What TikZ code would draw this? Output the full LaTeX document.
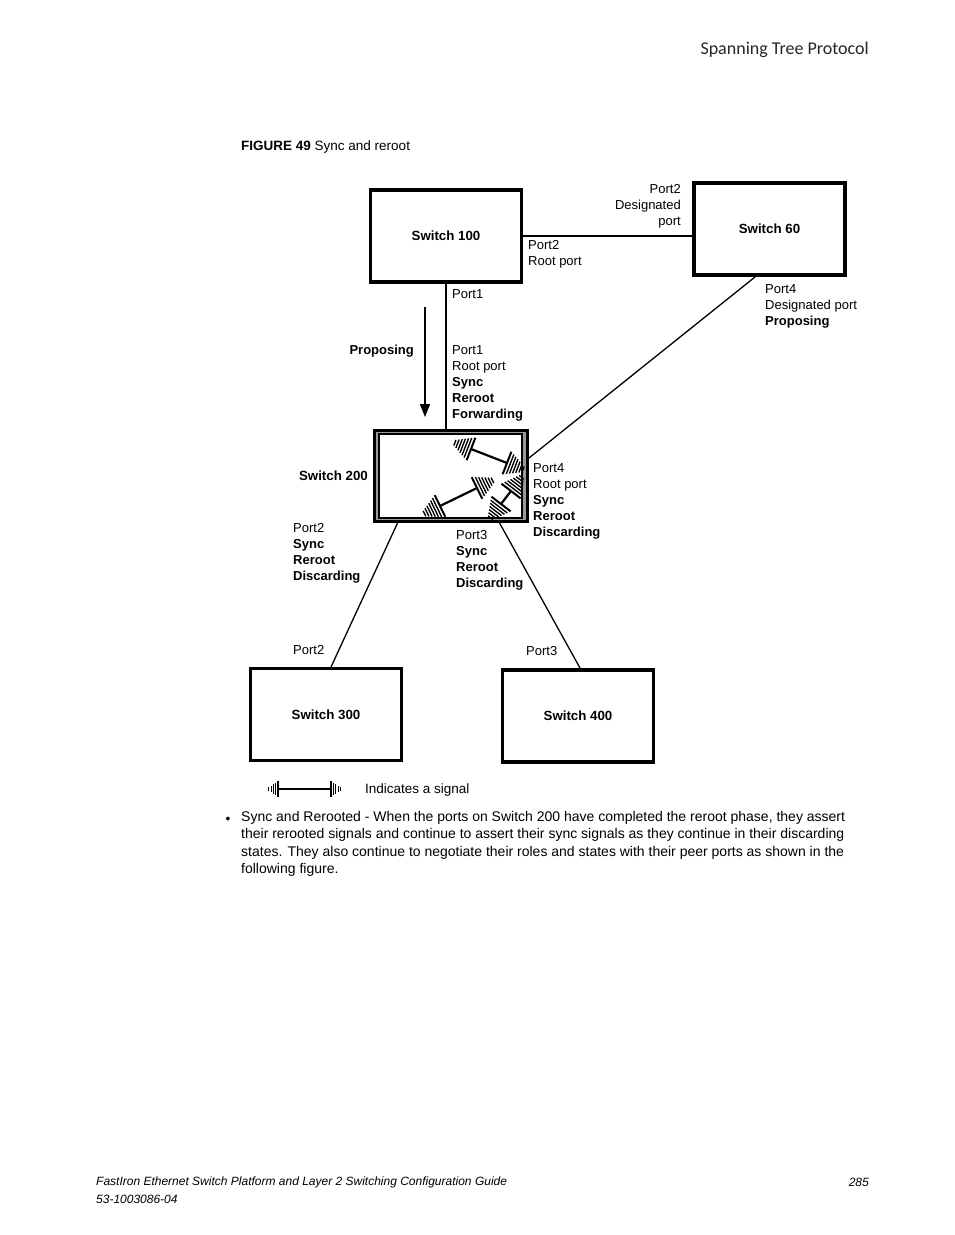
\documentclass[tikz,border=0pt]{standalone}
\usepackage{fontspec}
\setmainfont{Liberation Sans}
\newfontfamily\hdrfont{Carlito}
\usetikzlibrary{arrows.meta,calc}

\tikzset{
  sw/.style={draw, line width=3.5pt, minimum width=151pt, minimum height=92pt, inner sep=0,
    font=\fontsize{13.3}{16}\selectfont\bfseries},
  lbl/.style={font=\fontsize{13}{16}\selectfont, inner sep=0, align=left},
  lblr/.style={font=\fontsize{13}{16}\selectfont, inner sep=0, align=right},
  link/.style={line width=1.3pt},
  body/.style={font=\fontsize{14}{17.5}\selectfont, inner sep=0, align=left},
  pics/sigend/.style={code={
     \draw[line width=2pt] (0,-12) -- (0,12);
     \foreach \d/\h in {3.3/10.5,6.1/9,8.9/7.5,11.7/6,14.5/4.5,17.3/3}{\draw[line width=1.35pt] (\d,-\h) -- (\d,\h);}
  }},
  pics/sigendsmall/.style={code={
     \draw[line width=1.4pt] (0,-8) -- (0,8);
     \foreach \d/\h in {2.6/6,4.8/4.6,7/3.3,9.2/2}{\draw[line width=0.8pt] (\d,-\h) -- (\d,\h);}
  }}
}

\newcommand\sigdraw[4]{%
  \draw[line width=#4] (#1) -- (#2);
  \pgfmathanglebetweenpoints{\pgfpointanchor{#1}{center}}{\pgfpointanchor{#2}{center}}%
  \let\sigang\pgfmathresult
  \path (#2) pic[rotate=\sigang] {#3};
  \path (#1) pic[rotate=\sigang+180] {#3};
}

\begin{document}
\begin{tikzpicture}[x=1pt,y=-1pt]
\fill[white] (0,0) rectangle (954,1235);
\useasboundingbox (0,0) rectangle (954,1235);

% header and caption
\node[anchor=east, inner sep=0, font=\hdrfont\fontsize{18}{22}\selectfont, text=black!85] (hdr) at (869,50) {Spanning Tree Protocol};
\node[anchor=west, inner sep=0, font=\fontsize{13.5}{16}\selectfont] (cap) at (241,147) {\textbf{FIGURE 49} Sync and reroot};

% switches
\node[sw] (s100) at (446,236) {Switch 100};
\node[sw] (s60) at (769.5,229) {Switch 60};
\node[sw] (s300) at (326,714.5) {Switch 300};
\node[sw] (s400) at (578,716) {Switch 400};

% switch 200 (double border)
\node[draw, line width=3pt, fill=black!40, minimum width=153pt, minimum height=91pt, inner sep=0] (s200) at (451,476) {};
\draw[line width=2.5pt, fill=white] ($(s200.south west)+(6,-5)$) rectangle ($(s200.north east)+(-7,5)$);
\node[anchor=east, inner sep=0, font=\fontsize{13.3}{16}\selectfont\bfseries] (s200l) at (368,476) {Switch 200};

% connectors
\draw[link] (s100.east) -- (s100.east -| s60.west);
\draw[link, line width=2pt] (s100.south) -- (s100.south |- s200.north);
\coordinate (p4a) at (529,458);
\coordinate (p4b) at (755,277);
\draw[link] (p4a) -- (p4b);
\coordinate (p2a) at (398,522);
\coordinate (p2b) at (331,667);
\draw[link] (p2a) -- (p2b);
\coordinate (p3a) at (499,522);
\coordinate (p3b) at (580,668);
\draw[link] (p3a) -- (p3b);

% proposing arrow
\coordinate (ar1) at (425,307);
\coordinate (ar2) at (425,417);
\draw[line width=1.3pt, -{Triangle[length=13pt,width=10pt]}] (ar1) -- (ar2);

% labels
\node[lblr, anchor=north east] (l60p2) at (681,184.5) {Port2\\Designated\\port};
\node[lbl, anchor=north west] (l100p2) at (528,240.5) {Port2\\Root port};
\node[lbl, anchor=north west] (l100p1) at (452,289.5) {Port1};
\node[lbl, anchor=east, font=\fontsize{13}{16}\selectfont\bfseries] (lprop) at (414,351) {Proposing};
\node[lbl, anchor=north west] (l200p1) at (452,345.5) {Port1\\Root port\\\textbf{Sync}\\\textbf{Reroot}\\\textbf{Forwarding}};
\node[lbl, anchor=north west] (l200p4) at (533,463.5) {Port4\\Root port\\\textbf{Sync}\\\textbf{Reroot}\\\textbf{Discarding}};
\node[lbl, anchor=north west] (l60p4) at (765,284.5) {Port4\\Designated port\\\textbf{Proposing}};
\node[lbl, anchor=north west] (l200p2) at (293,523.5) {Port2\\\textbf{Sync}\\\textbf{Reroot}\\\textbf{Discarding}};
\node[lbl, anchor=north west] (l200p3) at (456,530.5) {Port3\\\textbf{Sync}\\\textbf{Reroot}\\\textbf{Discarding}};
\node[lbl, anchor=north west] (l300p2) at (293,645.5) {Port2};
\node[lbl, anchor=north west] (l400p3) at (526,646.5) {Port3};

% signals inside switch 200
\coordinate (g1a) at (471,449);
\coordinate (g1b) at (507,463);
\sigdraw{g1a}{g1b}{sigend}{2.2pt}
\coordinate (g2a) at (440,506);
\coordinate (g2b) at (477,488);
\sigdraw{g2a}{g2b}{sigend}{2.2pt}
\coordinate (g3a) at (501,504);
\coordinate (g3b) at (511,491);
\sigdraw{g3a}{g3b}{sigend}{2.2pt}

% legend
\coordinate (lg1) at (278,789);
\coordinate (lg2) at (331,789);
\sigdraw{lg1}{lg2}{sigendsmall}{1.3pt}
\node[anchor=west, inner sep=0, font=\fontsize{13.5}{16}\selectfont] (lgt) at (365,790) {Indicates a signal};

% body text
\node[anchor=center, inner sep=0, font=\fontsize{13.5}{16}\selectfont] (bul) at (228,820) {•};
\node[body, anchor=north west] (btxt) at (241,811) {Sync and Rerooted - When the ports on Switch 200 have completed the reroot phase, they assert\\their rerooted signals and continue to assert their sync signals as they continue in their discarding\\states. They also continue to negotiate their roles and states with their peer ports as shown in the\\following figure.};

% footer
\node[anchor=west, inner sep=0, font=\fontsize{12}{16}\selectfont\itshape] (ft1) at (96,1182) {FastIron Ethernet Switch Platform and Layer 2 Switching Configuration Guide};
\node[anchor=west, inner sep=0, font=\fontsize{12}{16}\selectfont\itshape] (ft2) at (96,1199) {53-1003086-04};
\node[anchor=east, inner sep=0, font=\fontsize{12}{16}\selectfont\itshape] (ft3) at (869,1182) {285};
\end{tikzpicture}
\end{document}
